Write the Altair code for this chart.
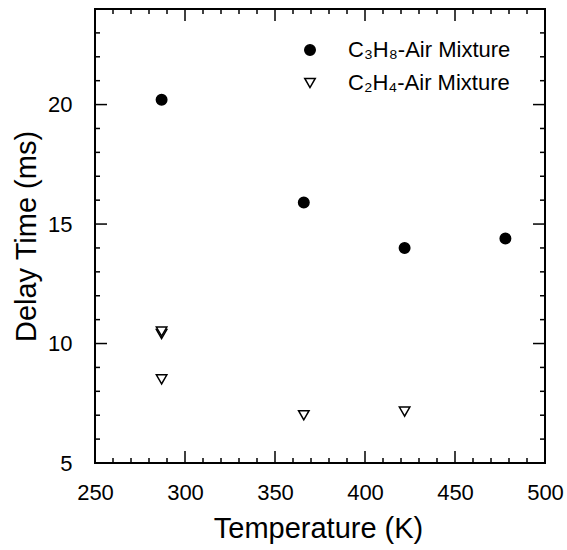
import altair as alt
import pandas as pd

# ---- data ----
series_names = ["C\u2083H\u2088-Air Mixture", "C\u2082H\u2084-Air Mixture"]
c3h8_T = [287, 366, 422, 478]
c3h8_t = [20.2, 15.9, 14.0, 14.4]
c2h4_T = [287, 287, 287, 366, 422]
c2h4_t = [10.4, 10.5, 8.5, 7.0, 7.15]

x_major = [250, 300, 350, 400, 450, 500]
x_minor = [v for v in range(260, 500, 10) if v % 50 != 0]
y_major = [5, 10, 15, 20]
y_minor = [v for v in range(6, 24) if v % 5 != 0]

X_DOMAIN = [250, 500]
Y_DOMAIN = [5, 24]

W, H = 450, 454
FONT = "Liberation Sans"

pts = pd.DataFrame({
    "T": c3h8_T + c2h4_T,
    "t": c3h8_t + c2h4_t,
    "series": [series_names[0]] * len(c3h8_T) + [series_names[1]] * len(c2h4_T),
})

xs = alt.Scale(domain=X_DOMAIN, nice=False, zero=False)
ys = alt.Scale(domain=Y_DOMAIN, nice=False, zero=False)

x_axis = alt.Axis(
    title="Temperature (K)", values=x_major, ticks=False, tickSize=0, domain=False,
    grid=False, labelPadding=19, labelFontSize=22, labelFont=FONT, labelColor="black",
    titleFont=FONT, titleFontSize=29, titleFontWeight="normal", titleColor="black",
    titleX=W / 2 - 2, titleY=65, titleBaseline="middle", titleAlign="center",
    labelFlush=False)
y_axis = alt.Axis(
    title="Delay Time (ms)", values=y_major, ticks=False, tickSize=0, domain=False,
    grid=False, labelPadding=23, labelFontSize=22, labelFont=FONT, labelColor="black",
    titleFont=FONT, titleFontSize=29, titleFontWeight="normal", titleColor="black",
    titleX=-69, titleY=H / 2, titleAngle=-90, titleBaseline="middle", titleAlign="center",
    labelFlush=False)

legend = alt.Legend(
    title=None, orient="none", legendX=204, legendY=30,
    labelFont=FONT, labelFontSize=22, labelColor="black", labelLimit=0,
    symbolSize=110, symbolStrokeWidth=1.5, labelOffset=27, rowPadding=11,
)

points = alt.Chart(pts).mark_point(size=110, strokeWidth=1.5, opacity=1).encode(
    x=alt.X("T:Q", scale=xs, axis=x_axis),
    y=alt.Y("t:Q", scale=ys, axis=y_axis),
    shape=alt.Shape("series:N", scale=alt.Scale(domain=series_names, range=["circle", "triangle-down"]), legend=legend),
    fill=alt.Fill("series:N", scale=alt.Scale(domain=series_names, range=["black", "white"]), legend=legend),
    stroke=alt.Stroke("series:N", scale=alt.Scale(domain=series_names, range=["black", "black"]), legend=legend),
)

def xticks(vals, length):
    d = pd.DataFrame({"T": vals})
    bot = alt.Chart(d).mark_rule(color="black", strokeWidth=1.5).encode(
        x=alt.X("T:Q", scale=xs, axis=x_axis), y=alt.value(H), y2=alt.value(H - length))
    top = alt.Chart(d).mark_rule(color="black", strokeWidth=1.5).encode(
        x=alt.X("T:Q", scale=xs, axis=x_axis), y=alt.value(0), y2=alt.value(length))
    return [bot, top]

def yticks(vals, length):
    d = pd.DataFrame({"t": vals})
    left = alt.Chart(d).mark_rule(color="black", strokeWidth=1.5).encode(
        y=alt.Y("t:Q", scale=ys, axis=y_axis), x=alt.value(0), x2=alt.value(length))
    right = alt.Chart(d).mark_rule(color="black", strokeWidth=1.5).encode(
        y=alt.Y("t:Q", scale=ys, axis=y_axis), x=alt.value(W), x2=alt.value(W - length))
    return [left, right]

layers = [points] + xticks(x_major, 12) + xticks(x_minor, 5) + yticks(y_major, 12) + yticks(y_minor, 5)

chart = alt.layer(*layers).properties(
    width=W, height=H,
    padding={"left": 95, "top": 9, "right": 22, "bottom": 87},
    autosize=alt.AutoSizeParams(type="none"),
    background="white",
).configure_view(stroke="black", strokeWidth=2)

chart.save("out.html", embed_options={"renderer": "svg", "actions": False})
